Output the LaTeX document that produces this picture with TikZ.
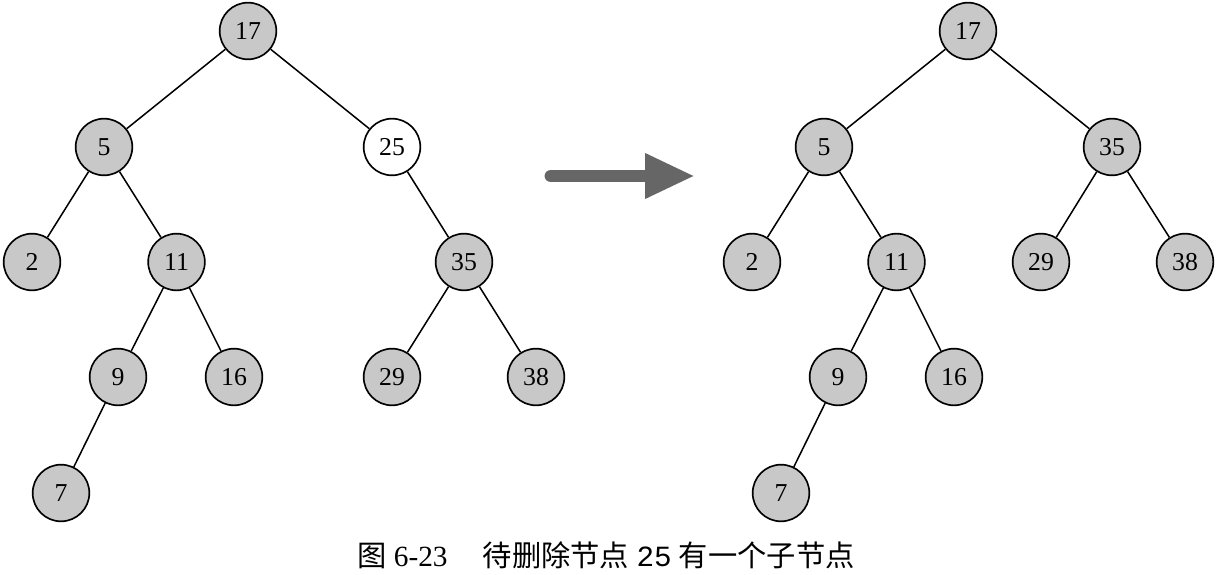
\documentclass[tikz,border=0pt]{standalone}
\usepackage{fontspec}
\setmainfont{Liberation Serif}
\setmonofont{Liberation Mono}
\newfontfamily\cjk{Noto Sans CJK SC}
\usetikzlibrary{arrows.meta}
\definecolor{keyGray}  {HTML}{C8C8C8}
\definecolor{arrowGray}{HTML}{666666}
\tikzset{
  keynode/.style={circle, draw=black, line width=1.4pt, fill=keyGray,
    minimum size=1.7cm, inner sep=0pt, font=\fontsize{22}{24}\selectfont},
  delnode/.style={keynode, fill=white},
  link/.style={line width=1.3pt},
}
\newcommand{\bstnode}[5][keynode]{%
  \node[#1] (#2) at (#4,#5) {#3};%
}

\begin{document}
\begin{tikzpicture}[x=0.3mm, y=-0.3mm]
\useasboundingbox (0,0) rectangle (1218,575);

% --- LEFT TREE (before) ---
\bstnode{l17}{17}{248}{31}
\bstnode{l5}{5}{104}{147}
\bstnode[delnode]{l25}{25}{392}{147}
\bstnode{l2}{2}{32}{262}
\bstnode{l11}{11}{176.5}{262}
\bstnode{l35}{35}{464}{262}
\bstnode{l9}{9}{118}{377}
\bstnode{l16}{16}{234}{377}
\bstnode{l29}{29}{392}{377}
\bstnode{l38}{38}{536}{377}
\bstnode{l7}{7}{61}{493}

\foreach \a/\b in {l17/l5, l17/l25, l5/l2, l5/l11, l11/l9, l11/l16,
                   l9/l7, l25/l35, l35/l29, l35/l38}
  \draw[link] (\a) -- (\b);

% --- RIGHT TREE (after) ---
\bstnode{r17}{17}{968}{31}
\bstnode{r5}{5}{824}{147}
\bstnode{r35}{35}{1112}{147}
\bstnode{r2}{2}{752}{262}
\bstnode{r11}{11}{896.5}{262}
\bstnode{r29}{29}{1041}{262}
\bstnode{r38}{38}{1185}{262}
\bstnode{r9}{9}{838}{377}
\bstnode{r16}{16}{954}{377}
\bstnode{r7}{7}{781}{493}

\foreach \a/\b in {r17/r5, r17/r35, r5/r2, r5/r11, r11/r9, r11/r16,
                   r9/r7, r35/r29, r35/r38}
  \draw[link] (\a) -- (\b);

% --- ARROW ---
\coordinate (arrowStart) at (551,176);
\coordinate (arrowEnd)   at (695,176);
\draw[arrowGray, line width=11pt, line cap=round,
      -{Triangle[length=1.5cm, width=1.26cm]}] (arrowStart) -- (arrowEnd);

% --- CAPTION ---
\node[font=\fontsize{25}{27}\selectfont] (caption) at (606,555)
  {{\cjk 图} 6-23\hspace{1.2em}{\cjk 待删除节点} \texttt{25} {\cjk 有一个子节点}};

\end{tikzpicture}
\end{document}
